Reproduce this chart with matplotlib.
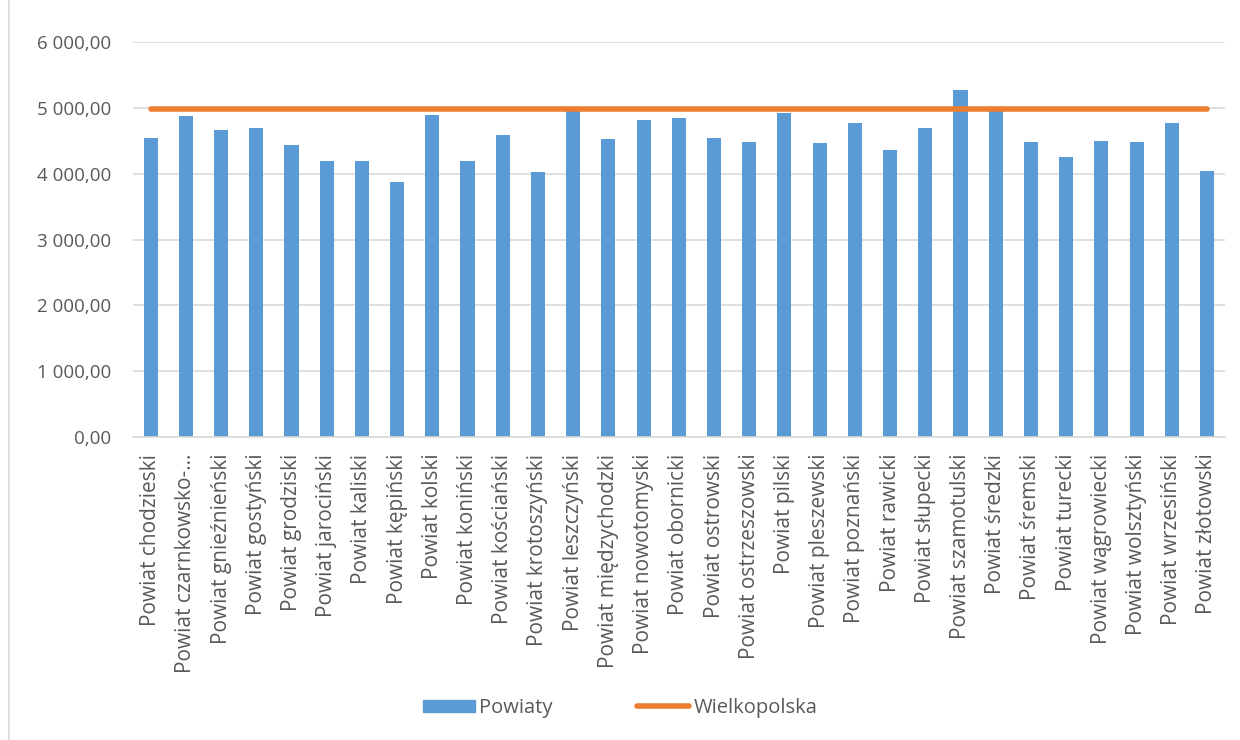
import matplotlib.pyplot as plt
from matplotlib.lines import Line2D
from matplotlib.patches import Patch
from matplotlib.ticker import FuncFormatter

powiaty = [
    'Powiat chodzieski', 'Powiat czarnkowsko-…', 'Powiat gnieźnieński', 'Powiat gostyński',
    'Powiat grodziski', 'Powiat jarociński', 'Powiat kaliski', 'Powiat kępiński',
    'Powiat kolski', 'Powiat koniński', 'Powiat kościański', 'Powiat krotoszyński',
    'Powiat leszczyński', 'Powiat międzychodzki', 'Powiat nowotomyski', 'Powiat obornicki',
    'Powiat ostrowski', 'Powiat ostrzeszowski', 'Powiat pilski', 'Powiat pleszewski',
    'Powiat poznański', 'Powiat rawicki', 'Powiat słupecki', 'Powiat szamotulski',
    'Powiat średzki', 'Powiat śremski', 'Powiat turecki', 'Powiat wągrowiecki',
    'Powiat wolsztyński', 'Powiat wrzesiński', 'Powiat złotowski',
]
wartosci = [
    4549, 4874, 4661, 4696, 4433, 4195, 4200, 3871, 4898, 4190, 4585, 4023,
    4960, 4519, 4808, 4848, 4539, 4483, 4929, 4473, 4772, 4357, 4691, 5274,
    4960, 4478, 4260, 4494, 4483, 4777, 4038,
]
wielkopolska = 4985

BLUE = '#5B9BD5'
ORANGE = '#ED7D31'
TXT = '#595959'
GRID = '#D9D9D9'

plt.rcParams['font.family'] = ['Open Sans', 'DejaVu Sans']

fig = plt.figure(figsize=(12.4, 7.4), dpi=100)
ax = fig.add_axes([133 / 1240, 303 / 740, (1224.6 - 133) / 1240, 395 / 740])

x = list(range(len(powiaty)))
ax.bar(x, wartosci, width=0.4, color=BLUE, zorder=2)
ax.plot(x, [wielkopolska] * len(x), color=ORANGE, lw=4, solid_capstyle='round', zorder=3)

ax.set_xlim(-0.5, len(x) - 0.5)
ax.set_ylim(0, 6000)
ax.set_yticks(range(0, 6001, 1000))
ax.yaxis.set_major_formatter(FuncFormatter(lambda v, p: f'{v:,.2f}'.replace(',', ' ').replace('.', ',')))
ax.yaxis.grid(True, color=GRID, lw=1.2, zorder=0)
ax.tick_params(axis='y', length=0, pad=16, labelsize=13.5, labelcolor=TXT)
ax.set_xticks(x)
ax.set_xticklabels(powiaty, rotation=90, fontsize=15, color=TXT)
ax.tick_params(axis='x', length=0, pad=12)
for s in ['top', 'right', 'left']:
    ax.spines[s].set_visible(False)
ax.spines['bottom'].set_color(GRID)
ax.spines['bottom'].set_linewidth(1.2)

handles = [Patch(color=BLUE), Line2D([], [], color=ORANGE, lw=4, solid_capstyle='round')]
fig.legend(handles, ['Powiaty', 'Wielkopolska'], loc='center', bbox_to_anchor=(0.5, 32 / 740),
           ncol=2, frameon=False, fontsize=14.5, labelcolor=TXT, handlelength=2.6,
           handleheight=0.6, handletextpad=0.2, columnspacing=4.2)

fig.add_artist(Line2D([9 / 1240, 9 / 1240], [0, 1], color=GRID, lw=1.2))

fig.savefig('out.png', dpi=100)
